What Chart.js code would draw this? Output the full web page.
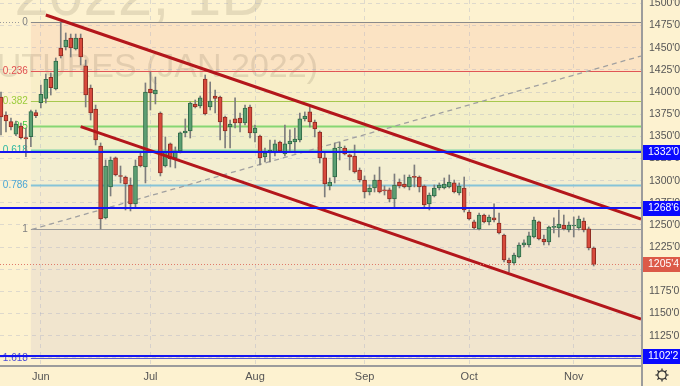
<!DOCTYPE html>
<html><head><meta charset="utf-8">
<script src="https://cdn.jsdelivr.net/npm/chart.js@4"></script>
<style>html,body{margin:0;padding:0;background:#fdf2d0;}canvas{display:block}</style>
</head><body>
<canvas id="c" width="680" height="386"></canvas>
<script>
// ---- DATA ----
const opens = [1394.4,1374.1,1366.5,1352.3,1361.6,1348.5,1349.6,1376.7,1387.9,1392.9,
1416.6,1403.4,1449.6,1450.8,1460.9,1448.5,1460.9,1429.4,1404.5,1380.8,
1339.1,1257.9,1292.9,1325.6,1305.3,1304.1,1295.1,1273.7,1327.8,1315.4,
1403.4,1397.8,1376.3,1316.5,1341.4,1325.6,1333.5,1353.8,1356.0,1386.5,
1384.2,1414.7,1383.1,1395.5,1394.4,1371.8,1360.5,1369.6,1370.7,1365.0,
1383.1,1353.8,1350.4,1326.7,1331.2,1331.2,1343.6,1330.1,1341.4,1343.6,
1345.9,1369.6,1377.5,1366.2,1354.9,1325.6,1294.0,1304.1,1336.8,1336.8,
1329.0,1327.8,1312.0,1300.7,1287.2,1291.7,1300.7,1289.5,1289.5,1279.3,
1298.5,1296.2,1292.9,1304.1,1304.1,1294.0,1273.7,1282.7,1291.7,1291.7,
1292.9,1297.4,1286.1,1291.7,1264.6,1253.4,1245.5,1261.2,1253.4,1257.9,
1252.2,1238.7,1210.5,1207.1,1213.9,1227.4,1227.4,1236.4,1253.4,1234.2,
1230.8,1247.2,1246.6,1250.0,1244.3,1248.8,1246.6,1254.5,1245.5,1224.0];
const highs = [1400.0,1377.5,1370.7,1367.3,1365.0,1359.4,1379.7,1379.7,1407.9,1420.3,
1421.5,1438.4,1479.0,1466.6,1465.4,1465.4,1465.4,1436.1,1407.9,1385.3,
1342.5,1323.3,1326.7,1326.7,1316.5,1305.2,1303.0,1323.3,1331.2,1410.2,
1422.6,1416.9,1377.5,1349.3,1342.5,1338.0,1354.9,1369.6,1388.8,1391.0,
1395.5,1419.2,1411.3,1402.3,1395.5,1372.9,1368.4,1393.3,1376.3,1385.3,
1385.3,1362.8,1351.5,1336.8,1345.9,1345.9,1344.7,1362.8,1357.2,1359.4,
1376.3,1377.5,1383.1,1368.4,1356.0,1332.3,1303.0,1342.5,1343.6,1339.1,
1330.0,1340.2,1314.3,1305.3,1295.1,1306.4,1315.4,1294.0,1291.7,1307.5,
1301.9,1306.4,1306.4,1317.7,1305.3,1295.1,1286.1,1295.1,1297.4,1303.0,
1306.4,1300.7,1297.4,1304.1,1266.9,1255.6,1263.5,1262.4,1261.2,1273.7,
1263.5,1239.8,1212.7,1218.4,1229.7,1233.1,1242.1,1259.0,1254.5,1238.7,
1248.8,1257.9,1266.9,1261.2,1253.4,1259.0,1260.1,1257.9,1247.7,1225.2];
const lows = [1351.5,1354.9,1357.2,1350.7,1347.0,1327.0,1338.3,1371.0,1382.0,1387.6,
1396.6,1402.3,1438.4,1447.4,1439.5,1447.4,1430.5,1383.1,1368.4,1340.2,
1245.5,1256.7,1282.7,1305.3,1297.4,1266.9,1265.8,1270.3,1315.4,1297.4,
1379.7,1386.5,1305.3,1315.4,1315.4,1314.3,1331.2,1349.3,1348.1,1382.0,
1382.0,1374.1,1379.7,1376.3,1345.9,1336.8,1336.8,1359.4,1354.9,1362.8,
1348.1,1343.6,1317.7,1321.1,1321.1,1327.8,1332.3,1327.8,1332.3,1331.2,
1343.6,1367.3,1360.5,1349.3,1319.9,1281.6,1289.5,1297.4,1323.3,1329.0,
1312.0,1308.5,1298.5,1280.4,1283.8,1287.2,1286.1,1283.8,1275.9,1270.3,
1291.7,1291.7,1289.5,1292.9,1287.2,1270.3,1266.9,1281.6,1289.5,1290.6,
1291.7,1286.1,1283.8,1264.6,1255.6,1245.5,1244.3,1252.2,1250.0,1253.4,
1239.8,1208.2,1197.0,1204.9,1212.7,1225.2,1225.2,1235.3,1233.1,1227.4,
1227.4,1241.0,1236.4,1244.3,1242.1,1236.4,1244.3,1242.1,1221.8,1203.7];
const closes = [1371.8,1367.3,1360.5,1363.9,1348.5,1347.0,1377.8,1373.3,1397.4,1414.4,
1404.9,1435.0,1440.6,1458.7,1449.6,1460.9,1439.5,1396.6,1376.3,1345.9,
1256.7,1316.5,1323.3,1306.4,1304.7,1296.2,1273.7,1316.5,1316.5,1400.0,
1398.9,1402.3,1308.7,1332.3,1324.4,1333.5,1353.8,1356.0,1387.6,1383.1,
1393.3,1375.2,1389.9,1392.7,1366.2,1356.0,1363.9,1365.0,1365.0,1382.0,
1353.8,1359.4,1325.6,1331.2,1334.6,1341.4,1333.5,1341.4,1344.7,1347.0,
1369.6,1372.9,1366.2,1358.3,1325.6,1296.2,1298.5,1336.8,1338.0,1330.1,
1326.7,1309.8,1300.7,1287.2,1291.7,1300.7,1287.2,1288.4,1279.3,1295.1,
1294.0,1292.9,1304.1,1303.6,1292.9,1272.5,1283.8,1291.7,1295.1,1296.2,
1298.5,1287.2,1294.0,1266.9,1256.7,1246.6,1261.2,1253.4,1259.0,1255.6,
1240.9,1210.5,1207.1,1216.1,1227.4,1229.7,1237.6,1255.6,1234.2,1230.8,
1247.7,1247.7,1251.1,1245.5,1250.0,1249.4,1256.7,1244.3,1224.0,1205.4];

const monthTicks = [8, 30, 51, 73, 94, 115];
const monthLabels = ['Jun', 'Jul', 'Aug', 'Sep', 'Oct', 'Nov'];
const priceTicks = [1100,1125,1150,1175,1200,1225,1250,1275,1300,1325,1350,1375,1400,1425,1450,1475,1500];

const fibLevels = [0, 0.236, 0.382, 0.5, 0.618, 0.786, 1, 1.618];
const fibLabels = ['0', '0.236', '0.382', '0.5', '0.618', '0.786', '1', '1.618'];
const fibHigh = 1479.0, fibLow = 1245.0, fibStart = 6;
const levelLines = [1332.0, 1268.75, 1102.25];
const lastPrice = 1205.5;
const upperTrend = [{x: 9.0, y: 1486.9}, {x: 128.5, y: 1256.7}];
const lowerTrend = [{x: 16.0, y: 1360.9}, {x: 128.5, y: 1143.9}];
const fibTrend = [{x: 6.2, y: 1245.0}, {x: 128.5, y: 1440.6}];

// ---- STYLE ----
const UP = '#5c9f72', UPB = '#2f6a47', DN = '#d84a3c', DNB = '#8e2c22', WICK = '#7d7d7d';
const fibColors = ['#8a8a8a','#e05555','#a6c84e','#86d672','#7fd4a8','#86c3d8','#9a9a9a','#5a5ad2'];
const fibText = ['#808080','#e05050','#9ccc3c','#44cc44','#2cb7a0','#4aa6d6','#808080','#4b4bd6'];
const bandColors = ['#fbe3c3','#f8eec8','#f3efc8','#f1efca','#f3eed1','#f6ebcf','#f1e5ce'];
const FONT = '"Liberation Sans", Arial, sans-serif';

const fmt = v => { const w = Math.floor(v + 1e-6); const e = Math.round((v - w) * 8); return w + "'" + e; };
const fibPrice = l => fibHigh - l * (fibHigh - fibLow);

const idx = opens.map((_, i) => i);
const wickData = idx.map(i => ({x: i, y: [lows[i], highs[i]]}));
const bodyData = idx.map(i => ({x: i, y: [opens[i], closes[i]]}));
const bodyFill = idx.map(i => closes[i] >= opens[i] ? UP : DN);
const bodyBorder = idx.map(i => closes[i] >= opens[i] ? UPB : DNB);

const deco = {
  id: 'deco',
  beforeDraw(chart) {
    const {ctx, chartArea: a, scales: {x, y}} = chart;
    ctx.save();
    ctx.fillStyle = '#fdf2d0';
    ctx.fillRect(0, 0, chart.width, chart.height);
    const xs = x.getPixelForValue(fibStart);
    for (let k = 0; k < fibLevels.length - 1; k++) {
      const t = y.getPixelForValue(fibPrice(fibLevels[k]));
      const b = y.getPixelForValue(fibPrice(fibLevels[k + 1]));
      ctx.fillStyle = bandColors[k];
      ctx.fillRect(xs, t, a.right - xs, b - t);
    }
    ctx.fillStyle = 'rgba(115,100,75,0.17)';
    ctx.textAlign = 'right';
    ctx.textBaseline = 'alphabetic';
    ctx.font = '62px ' + FONT;
    ctx.fillText('ZSF2022, 1D', 266, 15);
    ctx.font = '34px ' + FONT;
    ctx.fillText('SOYBEAN FUTURES (JAN 2022)', 318, 77);
    ctx.restore();
  },
  beforeDatasetsDraw(chart) {
    const {ctx, chartArea: a, scales: {x, y}} = chart;
    ctx.save();
    const xs = x.getPixelForValue(fibStart);
    ctx.font = '10px ' + FONT;
    ctx.textAlign = 'right';
    ctx.textBaseline = 'middle';
    fibLevels.forEach((l, k) => {
      const py = Math.round(y.getPixelForValue(fibPrice(l))) + 0.5;
      ctx.strokeStyle = fibColors[k];
      ctx.lineWidth = (l === 0.5 || l === 0.786 || l === 0.618) ? 2 : 1;
      ctx.beginPath(); ctx.moveTo(xs, py); ctx.lineTo(a.right, py); ctx.stroke();
      ctx.fillStyle = fibText[k];
      ctx.fillText(fibLabels[k], xs - 3, py);
    });
    const p0 = Math.round(y.getPixelForValue(fibPrice(0))) + 0.5;
    ctx.strokeStyle = '#9a9a9a'; ctx.lineWidth = 1; ctx.setLineDash([1, 2]);
    ctx.beginPath(); ctx.moveTo(a.left, p0); ctx.lineTo(xs - 11, p0); ctx.stroke();
    ctx.restore();
  },
  afterDatasetsDraw(chart) {
    const {ctx, chartArea: a, scales: {x, y}} = chart;
    ctx.save();
    const lp = Math.round(y.getPixelForValue(lastPrice)) + 0.5;
    ctx.strokeStyle = '#e07a6a'; ctx.lineWidth = 1; ctx.setLineDash([1, 2]);
    ctx.beginPath(); ctx.moveTo(a.left, lp); ctx.lineTo(a.right, lp); ctx.stroke();
    ctx.setLineDash([]);
    ctx.strokeStyle = '#1414f0'; ctx.lineWidth = 2;
    levelLines.forEach(v => {
      const py = Math.round(y.getPixelForValue(v));
      ctx.beginPath(); ctx.moveTo(a.left, py); ctx.lineTo(a.right, py); ctx.stroke();
    });
    ctx.restore();
  },
  afterDraw(chart) {
    const {ctx, chartArea: a, scales: {x, y}} = chart;
    ctx.save();
    ctx.strokeStyle = '#9c9c9c'; ctx.lineWidth = 2;
    ctx.beginPath(); ctx.moveTo(a.left, a.bottom + 1); ctx.lineTo(a.right, a.bottom + 1); ctx.stroke();
    ctx.beginPath(); ctx.moveTo(a.right + 1, 0); ctx.lineTo(a.right + 1, chart.height); ctx.stroke();
    ctx.font = '10.5px ' + FONT;
    ctx.textAlign = 'left'; ctx.textBaseline = 'middle';
    const tag = (v, col) => {
      const py = y.getPixelForValue(v);
      ctx.fillStyle = col;
      ctx.fillRect(a.right + 2, Math.round(py) - 7, chart.width - a.right - 2, 15);
      ctx.fillStyle = '#ffffff';
      ctx.fillText(fmt(v), a.right + 7, Math.round(py) + 0.5);
    };
    levelLines.forEach(v => tag(v, '#0a0aff'));
    tag(lastPrice, '#dc5a48');
    const gx = 662, gy = 375;
    ctx.strokeStyle = '#333'; ctx.lineWidth = 1.3;
    ctx.beginPath(); ctx.arc(gx, gy, 4.2, 0, Math.PI * 2); ctx.stroke();
    for (let k = 0; k < 8; k++) {
      const ang = k * Math.PI / 4;
      ctx.beginPath();
      ctx.moveTo(gx + Math.cos(ang) * 4.2, gy + Math.sin(ang) * 4.2);
      ctx.lineTo(gx + Math.cos(ang) * 6.5, gy + Math.sin(ang) * 6.5);
      ctx.stroke();
    }
    ctx.restore();
  }
};

new Chart(document.getElementById('c'), {
  type: 'bar',
  data: {
    datasets: [
      {type: 'line', data: upperTrend, borderColor: '#b3161b', borderWidth: 3, pointRadius: 0, order: 0},
      {type: 'line', data: lowerTrend, borderColor: '#b3161b', borderWidth: 3, pointRadius: 0, order: 0},
      {type: 'bar', data: bodyData, backgroundColor: bodyFill, borderColor: bodyBorder, borderWidth: 1,
       borderSkipped: false, barThickness: 4, minBarLength: 1, grouped: false, order: 1},
      {type: 'bar', data: wickData, backgroundColor: WICK, barThickness: 1, grouped: false, order: 2},
      {type: 'line', data: fibTrend, borderColor: '#a0a0a0', borderWidth: 1.3, borderDash: [5, 4], pointRadius: 0, order: 3}
    ]
  },
  options: {
    responsive: false, animation: false, events: [],
    layout: {padding: 0},
    plugins: {legend: {display: false}, tooltip: {enabled: false}},
    scales: {
      x: {
        type: 'linear', min: -0.2, max: 128.5, offset: false,
        grid: {color: 'rgba(160,165,195,0.32)', lineWidth: 1, drawTicks: false, offset: false},
        border: {display: false, dash: [4, 4]},
        afterBuildTicks(s) { s.ticks = monthTicks.map(v => ({value: v})); },
        ticks: {callback: v => monthLabels[monthTicks.indexOf(v)], color: '#555', font: {size: 11, family: FONT},
                padding: 5, maxRotation: 0, autoSkip: false},
        afterFit(s) { s.height = 21; s.paddingLeft = 0; s.paddingRight = 0; }
      },
      y: {
        type: 'linear', position: 'right', min: 1092.0, max: 1503.8,
        grid: {color: 'rgba(160,165,195,0.32)', lineWidth: 1, drawTicks: false},
        border: {display: false, dash: [4, 4]},
        afterBuildTicks(s) { s.ticks = priceTicks.map(v => ({value: v})); },
        ticks: {callback: v => fmt(v), color: '#555', font: {size: 10.5, family: FONT}, padding: 8,
                crossAlign: 'near', autoSkip: false},
        afterFit(s) { s.width = 39; s.paddingTop = 0; s.paddingBottom = 0; }
      }
    }
  },
  plugins: [deco]
});
</script>
</body></html>
